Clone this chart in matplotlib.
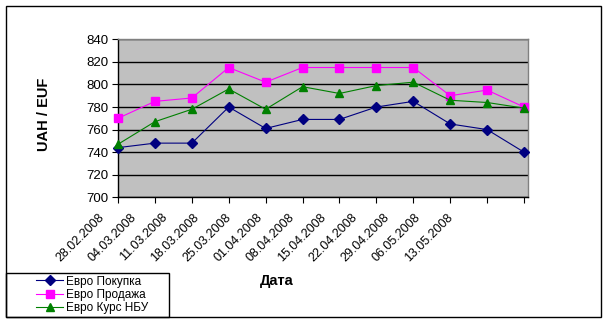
import matplotlib
matplotlib.use("Agg")
from matplotlib.patches import Rectangle
from matplotlib.pyplot import figure, close

# Weekly EUR/UAH rates
dates = [
    "28.02.2008", "04.03.2008", "11.03.2008", "18.03.2008",
    "25.03.2008", "01.04.2008", "08.04.2008", "15.04.2008",
    "22.04.2008", "29.04.2008", "06.05.2008", "13.05.2008",
]
buy = [744, 748, 748, 780, 761, 769, 769, 780, 785, 765, 760, 740]
sell = [770, 785, 788, 815, 802, 815, 815, 815, 815, 790, 795, 780]
nbu = [747, 767, 778, 796, 778, 798, 792, 799, 802, 786, 784, 779]

series_names = ["Евро Покупка", "Евро Продажа", "Евро Курс НБУ"]

W, H = 608, 326
FONT = ["Liberation Sans", "DejaVu Sans"]


def px(x, y):
    return x / W, 1 - y / H


def box(x0, y0, x1, y1):
    # rectangle outline given in pixel coordinates (top-left origin)
    return Rectangle(
        (x0 / W, 1 - y1 / H), (x1 - x0) / W, (y1 - y0) / H,
        transform=fig.transFigure, fill=False, ec="black", lw=1.0,
    )


fig = figure(figsize=(W / 100, H / 100), dpi=100)
fig.patch.set_facecolor("white")

# outer chart frame and legend frame
fig.patches.append(box(6, 6, 601, 317))
fig.patches.append(box(6, 272.7, 169, 317))

ax = fig.add_axes([118 / W, 1 - 197.3 / H, 409.7 / W, 158 / H])
ax.set_facecolor("#C0C0C0")
xs = list(range(len(dates)))

styles = [
    (buy, "#000080", "D", 5.2),
    (sell, "#FF00FF", "s", 5.2),
    (nbu, "#008000", "^", 6.2),
]
handles = []
for (values, color, marker, ms), name in zip(styles, series_names):
    (line,) = ax.plot(
        xs, values, color=color, lw=0.8, marker=marker, ms=ms,
        mec=color, mfc=color, zorder=3, clip_on=False, label=name,
    )
    handles.append(line)

ax.set_xlim(0, 11.1)
ax.set_ylim(700, 840)
ax.set_yticks(range(700, 841, 20))
ax.yaxis.grid(True, color="black", lw=1.0)
ax.set_axisbelow(True)
ax.set_xticks(xs)
ax.set_xticklabels([])
ax.tick_params(axis="both", direction="out", length=4, width=0.8,
               color="black")
ax.tick_params(axis="y", pad=3, labelsize=9.5)
for lab in ax.get_yticklabels():
    lab.set_family(FONT)
for side in ["top", "right"]:
    ax.spines[side].set_color("#808080")
    ax.spines[side].set_linewidth(1.0)
for side in ["left", "bottom"]:
    ax.spines[side].set_color("black")
    ax.spines[side].set_linewidth(1.0)

# rotated date labels
for i, d in enumerate(dates):
    x, y = px(98.3 + 31.65 * i, 211.5)
    fig.text(x, y, d, rotation=45, ha="right", va="top",
             rotation_mode="anchor", fontsize=9, family=FONT)

fig.text(*px(277, 281), "Дата", ha="center", va="center",
         fontsize=10.5, fontweight="bold", family=FONT)
fig.text(*px(44.5, 114), "UAH / EUF", ha="center", va="center",
         rotation=90, fontsize=10.5, fontweight="bold", family=FONT)

fig.legend(
    handles=handles, labels=series_names,
    loc="center left", bbox_to_anchor=px(36, 295),
    frameon=False, ncol=1,
    prop={"family": FONT, "size": 8.5},
    handlelength=2.3, handletextpad=0.25, borderpad=0,
    labelspacing=0.12, borderaxespad=0,
)

fig.savefig("out.png", dpi=100)
close(fig)
